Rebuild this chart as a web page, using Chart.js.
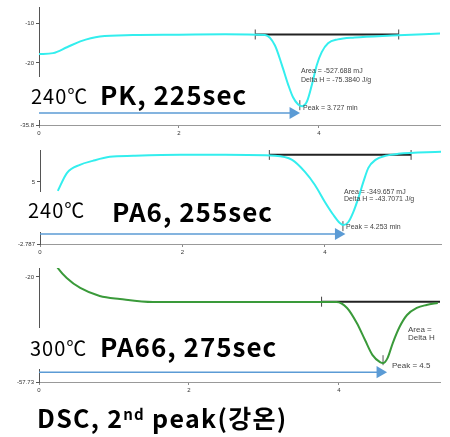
<!DOCTYPE html>
<html>
<head>
<meta charset="utf-8">
<script src="https://cdn.jsdelivr.net/npm/chart.js@4/dist/chart.umd.min.js"></script>
<style>
    body { margin: 0; background: #fff; }
    #wrap { position: relative; width: 450px; height: 437px; overflow: hidden;
            font-family: "Noto Sans CJK KR", "Noto Sans", sans-serif; }
    canvas { position: absolute; left: 0; }
    .lbl { position: absolute; line-height: 1; white-space: nowrap; color: #000; transform: translateY(-50%); }
    .temp { font-size: 20px; letter-spacing: 1px; }
    .name { font-size: 26px; font-weight: bold; letter-spacing: 1px; }
    .note { position: absolute; font-family: "Liberation Sans", Arial, sans-serif; font-size: 7px; color: #444;
            line-height: 1; white-space: nowrap; transform: translateY(-50%); }
    .note.big { font-size: 8px; }
    .sup { font-size: 15px; position: relative; top: -8px; }
</style>
</head>
<body>
<div id="wrap">
    <canvas id="c1" width="450" height="141" style="top:0px"></canvas>
    <canvas id="c2" width="450" height="119" style="top:141px"></canvas>
    <canvas id="c3" width="450" height="138" style="top:260px"></canvas>

    <div class="lbl temp" style="left:31px;top:96px">240℃</div>
    <div class="lbl name" style="left:100px;top:94px">PK, 225sec</div>
    <div class="lbl temp" style="left:28px;top:210px">240℃</div>
    <div class="lbl name" style="left:112px;top:211px">PA6, 255sec</div>
    <div class="lbl temp" style="left:30px;top:348px">300℃</div>
    <div class="lbl name" style="left:100px;top:346px">PA66, 275sec</div>
    <div class="lbl name" style="left:37px;top:417px;font-size:25px;letter-spacing:1.3px">DSC, 2<span class="sup">nd</span> peak(강온)</div>

    <div class="note" style="left:301px;top:70px">Area = -527.688 mJ</div>
    <div class="note" style="left:301px;top:78.5px">Delta H = -75.3840 J/g</div>
    <div class="note" style="left:303px;top:106.5px">Peak = 3.727 min</div>
    <div class="note" style="left:344px;top:190.5px">Area = -349.657 mJ</div>
    <div class="note" style="left:344px;top:198px">Delta H = -43.7071 J/g</div>
    <div class="note" style="left:346px;top:225.5px">Peak = 4.253 min</div>
    <div class="note big" style="left:408px;top:330px">Area =</div>
    <div class="note big" style="left:408px;top:337.5px">Delta H</div>
    <div class="note big" style="left:392px;top:365.5px">Peak = 4.5</div>
</div>

<script>
// ---- data (time in min, heat flow) ----
const pkTime  = [0, 0.2, 0.4, 0.59, 0.87, 1.34, 2.0, 2.66, 3.23, 3.37, 3.47, 3.56, 3.63, 3.7, 3.76, 3.83, 3.9, 3.97, 4.04, 4.13, 4.27, 4.51, 5.04, 5.73];
const pkHeat  = [-17.75, -17.5, -16, -14.5, -13.25, -12.9, -12.8, -12.7, -12.9, -15.5, -20.5, -25.5, -28.75, -30.5, -31, -29.75, -25.5, -20.5, -17.25, -15, -14, -13.5, -13, -12.5];

const pa6Time = [0.25, 0.38, 0.56, 0.74, 0.98, 1.31, 1.97, 2.6, 3.3, 3.54, 3.72, 3.86, 4.0, 4.12, 4.21, 4.26, 4.33, 4.4, 4.47, 4.54, 4.61, 4.71, 4.85, 5.03, 5.63];
const pa6Heat = [3.87, 6.13, 7.14, 7.64, 8.14, 8.27, 8.39, 8.39, 8.27, 7.76, 6.26, 4.62, 2.49, 0.85, -0.15, -0.4, -0.03, 1.23, 2.99, 5.0, 6.76, 7.76, 8.27, 8.52, 8.77];

const pa66Time = [0.2, 0.25, 0.37, 0.55, 0.81, 1.08, 1.52, 2.48, 3.97, 4.11, 4.24, 4.35, 4.45, 4.55, 4.59, 4.65, 4.72, 4.81, 4.91, 5.04, 5.17, 5.32];
const pa66Heat = [-14.5, -16.76, -20.36, -23.96, -26.83, -27.91, -29, -29, -29, -31.15, -36.55, -42.66, -48.06, -50.58, -50.94, -49.14, -43.74, -37.99, -33.67, -31.15, -30.07, -29.35];

// integration baselines [start, end] and their level
const pkBase   = [3.09, 5.14];   const pkBaseY   = -12.75;
const pa6Base  = [3.22, 5.21];   const pa6BaseY  = 8.39;
const pa66Base = [3.77, 5.35];   const pa66BaseY = -28.9;

// peak markers [time, heat]
const pkPeak   = [3.727, -30.75];
const pa6Peak  = [4.253, -0.55];
const pa66Peak = [4.59, -49.9];

// blue arrows: level and end time
const pkArrow   = [-32.75, 3.63];
const pa6Arrow  = [-1.53, 4.19];
const pa66Arrow = [-54.2, 4.55];

// y ticks shown on each panel
const pkTicks   = [-35.8, -20, -10];
const pa6Ticks  = [-2.787, 5];
const pa66Ticks = [-57.73, -20];

const TICK_FONT = { size: 6, family: "Liberation Sans" };
const ARROW = "#5B9BD5";

function pts(xs, ys) {
    return xs.map((x, i) => ({ x, y: ys[i] }));
}

// white patch that hides the y axis behind the big labels
const whiteout = {
    id: "whiteout",
    beforeDatasetsDraw(chart, args, opts) {
        const ctx = chart.ctx;
        ctx.save();
        ctx.fillStyle = "#fff";
        ctx.fillRect(opts.x, opts.y, opts.w, opts.h);
        ctx.restore();
    }
};

function panel(id, p) {
    const datasets = [
        {
            data: pts(p.time, p.heat),
            borderColor: p.color, borderWidth: 2, pointRadius: 0,
            cubicInterpolationMode: "monotone"
        },
        {
            data: pts(p.base, [p.baseY, p.baseY]),
            borderColor: "#222", borderWidth: 2,
            pointStyle: "line", rotation: 90,
            pointRadius: p.base.map(v => v >= p.xMax ? 0 : 5),
            pointBorderColor: "#444", pointBorderWidth: 1
        },
        {
            data: [{ x: p.peak[0], y: p.peak[1] }],
            showLine: false, pointStyle: "line", rotation: 90,
            pointRadius: 5, pointBorderColor: "#555", pointBorderWidth: 1
        },
        {
            data: [{ x: 0, y: p.arrow[0] }, { x: p.arrow[1], y: p.arrow[0] }],
            borderColor: ARROW, borderWidth: 1.5,
            pointStyle: "triangle", rotation: 90, pointRadius: [0, 7],
            pointBackgroundColor: ARROW, pointBorderColor: ARROW, pointBorderWidth: 0
        }
    ];

    return new Chart(document.getElementById(id), {
        type: "line",
        data: { datasets },
        plugins: [whiteout],
        options: {
            responsive: false,
            animation: false,
            layout: { padding: { top: p.padTop, right: p.padRight, left: 0, bottom: 0 } },
            plugins: {
                legend: { display: false },
                tooltip: { enabled: false },
                whiteout: p.hide
            },
            scales: {
                x: {
                    type: "linear", min: 0, max: p.xMax,
                    afterFit: s => { s.height = 16; },
                    grid: { drawOnChartArea: false, tickLength: 3, color: "#888" },
                    border: { color: "#999" },
                    ticks: { stepSize: 2, includeBounds: false, maxRotation: 0, autoSkip: false,
                             font: TICK_FONT, color: "#333", padding: 2 }
                },
                y: {
                    type: "linear", min: p.yMin, max: p.yMax,
                    afterFit: s => { s.width = p.left; },
                    afterBuildTicks: s => { s.ticks = p.ticks.map(v => ({ value: v })); },
                    grid: { drawOnChartArea: false, tickLength: 3, color: "#555" },
                    border: { color: "#555" },
                    ticks: { font: TICK_FONT, color: "#333", padding: 2, callback: v => String(v) }
                }
            }
        }
    });
}

panel("c1", {
    time: pkTime, heat: pkHeat, color: "#33EEEE",
    base: pkBase, baseY: pkBaseY, peak: pkPeak, arrow: pkArrow, ticks: pkTicks,
    xMax: 5.73, yMin: -35.8, yMax: -5.75,
    left: 39, padTop: 6, padRight: 10,
    hide: { x: 0, y: 77, w: 60, h: 43 }
});

panel("c2", {
    time: pa6Time, heat: pa6Heat, color: "#33EEEE",
    base: pa6Base, baseY: pa6BaseY, peak: pa6Peak, arrow: pa6Arrow, ticks: pa6Ticks,
    xMax: 5.63, yMin: -2.787, yMax: 9,
    left: 40, padTop: 9, padRight: 9,
    hide: { x: 0, y: 51, w: 60, h: 40 }
});

panel("c3", {
    time: pa66Time, heat: pa66Heat, color: "#3A9A3A",
    base: pa66Base, baseY: pa66BaseY, peak: pa66Peak, arrow: pa66Arrow, ticks: pa66Ticks,
    xMax: 5.35, yMin: -57.73, yMax: -16.8,
    left: 39, padTop: 8, padRight: 10,
    hide: { x: 0, y: 68, w: 60, h: 41 }
});
</script>
</body>
</html>
